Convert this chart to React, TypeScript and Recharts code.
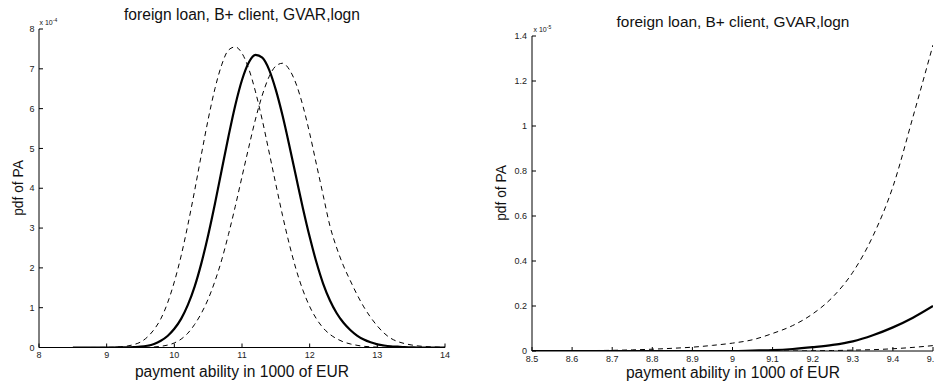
import React from 'react';
import { LineChart, Line, XAxis, YAxis } from 'recharts';

const FONT = '"Liberation Sans", Arial, Helvetica, sans-serif';

// ---------- Left panel (values in units of 1e-4) ----------
const leftX = [
  8.5, 8.6, 8.7, 8.8, 8.9, 9.0, 9.1, 9.2, 9.3, 9.4,
  9.5, 9.6, 9.7, 9.8, 9.9, 10.0, 10.1, 10.2, 10.3, 10.4,
  10.5, 10.6, 10.7, 10.8, 10.9, 11.0, 11.1, 11.2, 11.3, 11.4,
  11.5, 11.6, 11.7, 11.8, 11.9, 12.0, 12.1, 12.2, 12.3, 12.4,
  12.5, 12.6, 12.7, 12.8, 12.9, 13.0, 13.1, 13.2, 13.3, 13.4,
  13.5, 13.6, 13.7, 13.8, 13.9, 14.0,
];
const leftSolid = [
  0, 0, 0, 0, 0, 0, 0.0004, 0.0017, 0.0043, 0.0105,
  0.02, 0.045, 0.09, 0.17, 0.29, 0.47, 0.72, 1.07, 1.53, 2.12,
  2.82, 3.61, 4.46, 5.3, 6.08, 6.72, 7.16, 7.35, 7.28, 6.98,
  6.47, 5.82, 5.07, 4.28, 3.5, 2.78, 2.14, 1.6, 1.18, 0.86,
  0.62, 0.44, 0.3, 0.2, 0.13, 0.08, 0.05, 0.03, 0.02, 0.01,
  0.005, 0, 0, 0, 0, 0,
];
const leftDashLow = [
  0, 0, 0.0003, 0.0008, 0.0017, 0.0035, 0.0078, 0.0165, 0.035, 0.073,
  0.136, 0.26, 0.45, 0.72, 1.12, 1.65, 2.3, 3.08, 3.94, 4.85,
  5.73, 6.5, 7.1, 7.47, 7.55, 7.39, 7.0, 6.42, 5.71, 4.91,
  4.1, 3.31, 2.59, 1.96, 1.44, 1.03, 0.72, 0.49, 0.33, 0.22,
  0.14, 0.09, 0.055, 0.03, 0.018, 0.01, 0.005, 0, 0, 0,
  0, 0, 0, 0, 0, 0,
];
const leftDashHigh = [
  0, 0, 0, 0, 0, 0, 0, 0.0003, 0.0008, 0.0016,
  0.0025, 0.006, 0.014, 0.03, 0.06, 0.115, 0.21, 0.36, 0.58, 0.862,
  1.216, 1.665, 2.2, 2.84, 3.54, 4.29, 5.03, 5.74, 6.34, 6.8,
  7.07, 7.14, 6.98, 6.62, 6.07, 5.38, 4.6, 3.82, 3.05, 2.5,
  2.05, 1.68, 1.33, 1.02, 0.76, 0.54, 0.36, 0.23, 0.15, 0.1,
  0.065, 0.04, 0.025, 0.015, 0.01, 0.005,
];
const leftXTicks = [8, 9, 10, 11, 12, 13, 14];
const leftYTicks = [0, 1, 2, 3, 4, 5, 6, 7, 8];

// ---------- Right panel (values in units of 1e-5) ----------
const rightX = [
  8.5, 8.55, 8.6, 8.65, 8.7, 8.75, 8.8, 8.85, 8.9, 8.95,
  9.0, 9.05, 9.1, 9.15, 9.2, 9.25, 9.3, 9.35, 9.4, 9.45, 9.5,
];
const rightDashLow = [
  0, 0, 0.001, 0.002, 0.003, 0.005, 0.008, 0.012, 0.017, 0.025,
  0.035, 0.05, 0.078, 0.113, 0.165, 0.24, 0.35, 0.51, 0.73, 1.04, 1.36,
];
const rightSolid = [
  0, 0, 0, 0, 0, 0, 0, 0, 0, 0,
  0, 0.002, 0.004, 0.009, 0.017, 0.027, 0.043, 0.07, 0.105, 0.148, 0.2,
];
const rightDashHigh = [
  0, 0, 0, 0, 0, 0, 0, 0, 0, 0,
  0, 0, 0, 0, 0.001, 0.002, 0.004, 0.006, 0.01, 0.016, 0.024,
];
const rightXTicks = [8.5, 8.6, 8.7, 8.8, 8.9, 9, 9.1, 9.2, 9.3, 9.4, 9.5];
const rightYTicks = [0, 0.2, 0.4, 0.6, 0.8, 1, 1.2, 1.4];

const leftData = leftX.map((x, i) => ({
  x,
  solid: leftSolid[i],
  lo: leftDashLow[i],
  hi: leftDashHigh[i],
}));
const rightData = rightX.map((x, i) => ({
  x,
  solid: rightSolid[i],
  lo: rightDashLow[i],
  hi: rightDashHigh[i],
}));

const BottomTick = (props: any) => {
  const { x, y, payload, dy } = props;
  return (
    <g>
      <line x1={x} y1={y} x2={x} y2={y - 4} stroke="#000" strokeWidth={1} />
      <text x={x} y={y + dy} textAnchor="middle" fontSize={9} fill="#222" fontFamily={FONT}>
        {String(payload.value)}
      </text>
    </g>
  );
};

const LeftTick = (props: any) => {
  const { x, y, payload, gap } = props;
  return (
    <g>
      <line x1={x} y1={y} x2={x + 4} y2={y} stroke="#000" strokeWidth={1} />
      <text x={x - gap} y={y + 3.2} textAnchor="end" fontSize={9} fill="#222" fontFamily={FONT}>
        {String(payload.value)}
      </text>
    </g>
  );
};

const dashed = '5 4';

export default function App() {
  return (
    <div
      style={{
        position: 'absolute',
        left: 0,
        top: 0,
        width: 934,
        height: 381,
        overflow: 'hidden',
        background: '#fff',
      }}
    >
      <div style={{ position: 'absolute', left: 0, top: 0 }}>
        <LineChart
          width={470}
          height={381}
          data={leftData}
          margin={{ top: 29, right: 25, left: 0, bottom: 0 }}
        >
          <XAxis
            dataKey="x"
            type="number"
            domain={[8, 14]}
            ticks={leftXTicks}
            interval={0}
            height={33.5}
            tickSize={0}
            tickMargin={0}
            tickLine={false}
            axisLine={{ stroke: '#000', strokeWidth: 1 }}
            allowDataOverflow
            tick={(p: any) => <BottomTick {...p} dy={10.5} />}
          />
          <YAxis
            type="number"
            domain={[0, 8]}
            ticks={leftYTicks}
            interval={0}
            width={39}
            tickSize={0}
            tickMargin={0}
            tickLine={false}
            axisLine={{ stroke: '#000', strokeWidth: 1 }}
            allowDataOverflow
            tick={(p: any) => <LeftTick {...p} gap={4.5} />}
          />
          <Line type="monotone" dataKey="lo" stroke="#000" strokeWidth={1} strokeDasharray={dashed} dot={false} isAnimationActive={false} />
          <Line type="monotone" dataKey="hi" stroke="#000" strokeWidth={1} strokeDasharray={dashed} dot={false} isAnimationActive={false} />
          <Line type="monotone" dataKey="solid" stroke="#000" strokeWidth={2.2} dot={false} isAnimationActive={false} />
        </LineChart>
      </div>
      <div style={{ position: 'absolute', left: 470, top: 0 }}>
        <LineChart
          width={464}
          height={381}
          data={rightData}
          margin={{ top: 36, right: 1, left: 0, bottom: 0 }}
        >
          <XAxis
            dataKey="x"
            type="number"
            domain={[8.5, 9.5]}
            ticks={rightXTicks}
            interval={0}
            height={30}
            tickSize={0}
            tickMargin={0}
            tickLine={false}
            axisLine={{ stroke: '#000', strokeWidth: 1 }}
            allowDataOverflow
            tick={(p: any) => <BottomTick {...p} dy={11} />}
          />
          <YAxis
            type="number"
            domain={[0, 1.4]}
            ticks={rightYTicks}
            interval={0}
            width={62}
            tickSize={0}
            tickMargin={0}
            tickLine={false}
            axisLine={{ stroke: '#000', strokeWidth: 1 }}
            allowDataOverflow
            tick={(p: any) => <LeftTick {...p} gap={5} />}
          />
          <Line type="monotone" dataKey="lo" stroke="#000" strokeWidth={1} strokeDasharray={dashed} dot={false} isAnimationActive={false} />
          <Line type="monotone" dataKey="hi" stroke="#000" strokeWidth={1} strokeDasharray={dashed} dot={false} isAnimationActive={false} />
          <Line type="monotone" dataKey="solid" stroke="#000" strokeWidth={2.2} dot={false} isAnimationActive={false} />
        </LineChart>
      </div>
      <svg
        width={934}
        height={381}
        style={{ position: 'absolute', left: 0, top: 0, pointerEvents: 'none' }}
        fontFamily={FONT}
        fill="#111"
      >
        <text x={242} y={20} fontSize={15.6} textAnchor="middle">foreign loan, B+ client, GVAR,logn</text>
        <text x={733} y={27} fontSize={15.4} textAnchor="middle">foreign loan, B+ client, GVAR,logn</text>
        <text x={242} y={377} fontSize={15.6} textAnchor="middle">payment ability in 1000 of EUR</text>
        <text x={733} y={378} fontSize={15.6} textAnchor="middle">payment ability in 1000 of EUR</text>
        <text transform="translate(22.5,188) rotate(-90)" fontSize={13.8} textAnchor="middle">pdf of PA</text>
        <text transform="translate(506,193) rotate(-90)" fontSize={13.8} textAnchor="middle">pdf of PA</text>
        <text x={39.5} y={25} fontSize={7}>
          x 10<tspan dy={-3} fontSize={5}>-4</tspan>
        </text>
        <text x={533.5} y={31.5} fontSize={7}>
          x 10<tspan dy={-3} fontSize={5}>-5</tspan>
        </text>
      </svg>
    </div>
  );
}
